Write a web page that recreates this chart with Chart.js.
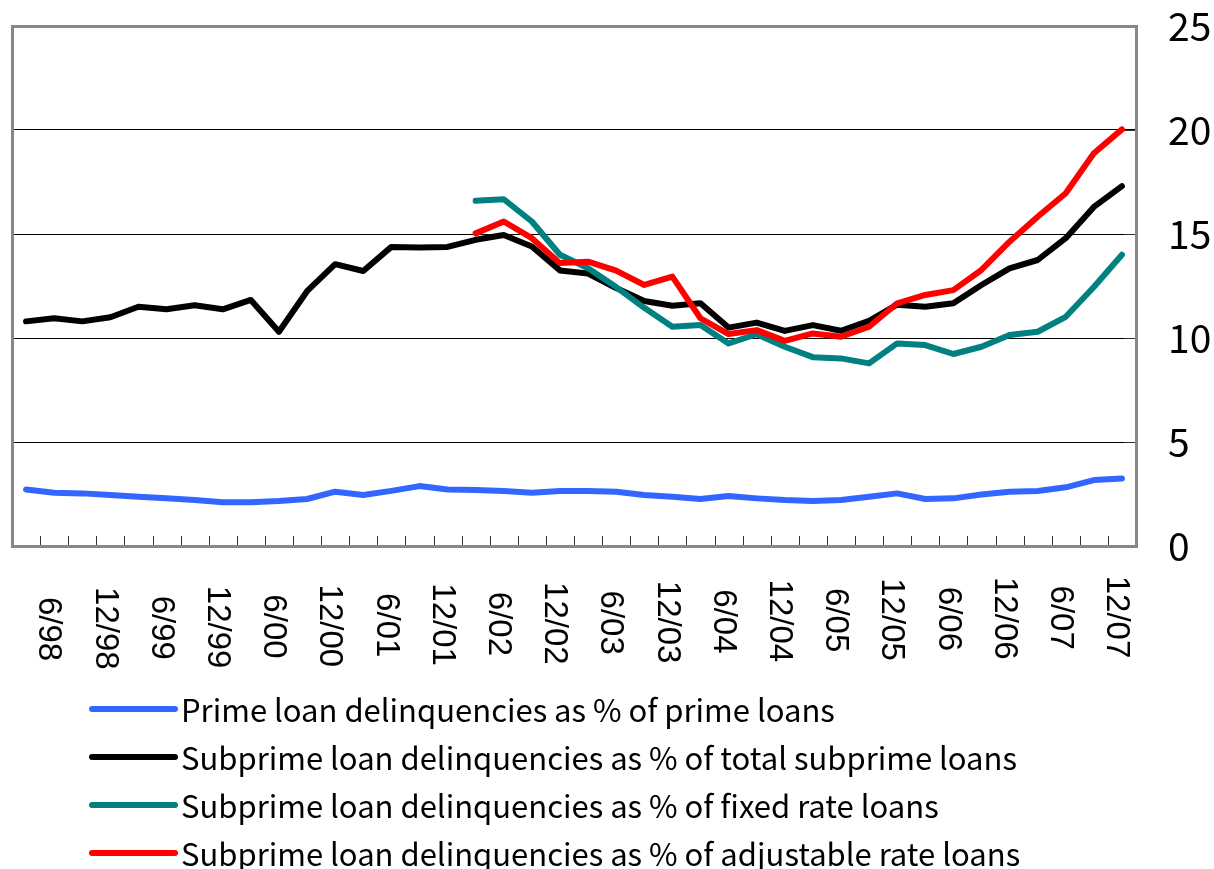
<!DOCTYPE html>
<html>
<head>
<meta charset="utf-8">
<script src="https://cdn.jsdelivr.net/npm/chart.js@4.4.1/dist/chart.umd.min.js"></script>
<style>
  html, body { margin: 0; padding: 0; background: #ffffff; }
  #wrap { width: 1214px; height: 869px; position: relative; }
</style>
</head>
<body>
<div id="wrap"><canvas id="chart" width="1214" height="869"></canvas></div>
<script>
// Quarter-end dates, March 1998 to December 2007
const quarters = [
  "3/98","6/98","9/98","12/98","3/99","6/99","9/99","12/99",
  "3/00","6/00","9/00","12/00","3/01","6/01","9/01","12/01",
  "3/02","6/02","9/02","12/02","3/03","6/03","9/03","12/03",
  "3/04","6/04","9/04","12/04","3/05","6/05","9/05","12/05",
  "3/06","6/06","9/06","12/06","3/07","6/07","9/07","12/07"
];

// Labels printed under the axis (every second quarter)
const axisLabels = [
  "6/98","12/98","6/99","12/99","6/00","12/00","6/01","12/01","6/02","12/02",
  "6/03","12/03","6/04","12/04","6/05","12/05","6/06","12/06","6/07","12/07"
];

// Delinquency rates, percent
const primeLoans = [
  2.72, 2.56, 2.53, 2.45, 2.37, 2.29, 2.21, 2.10, 2.10, 2.16,
  2.26, 2.61, 2.45, 2.65, 2.88, 2.72, 2.69, 2.64, 2.56, 2.64,
  2.64, 2.61, 2.45, 2.37, 2.26, 2.40, 2.29, 2.21, 2.16, 2.21,
  2.37, 2.53, 2.26, 2.29, 2.48, 2.61, 2.64, 2.82, 3.17, 3.25
];
const subprimeTotal = [
  10.80, 10.95, 10.80, 11.00, 11.50, 11.38, 11.57, 11.38, 11.83, 10.30,
  12.25, 13.55, 13.22, 14.38, 14.35, 14.38, 14.72, 14.95, 14.40, 13.25,
  13.10, 12.40, 11.78, 11.55, 11.67, 10.50, 10.74, 10.34, 10.62, 10.35,
  10.83, 11.60, 11.50, 11.67, 12.55, 13.35, 13.75, 14.80, 16.30, 17.30
];
const subprimeFixed = [
  null, null, null, null, null, null, null, null, null, null,
  null, null, null, null, null, null, 16.60, 16.67, 15.60, 14.00,
  13.35, 12.45, 11.45, 10.54, 10.63, 9.74, 10.18, 9.58, 9.08, 9.02,
  8.78, 9.74, 9.66, 9.23, 9.58, 10.14, 10.30, 11.02, 12.45, 14.00
];
const subprimeAdjustable = [
  null, null, null, null, null, null, null, null, null, null,
  null, null, null, null, null, null, 15.03, 15.60, 14.80, 13.60,
  13.67, 13.24, 12.55, 12.95, 10.95, 10.19, 10.38, 9.86, 10.22, 10.06,
  10.54, 11.67, 12.07, 12.30, 13.27, 14.63, 15.83, 16.96, 18.88, 20.03
];

const yTicks = [0, 5, 10, 15, 20, 25];

const seriesNames = [
  "Prime loan delinquencies as % of prime loans",
  "Subprime loan delinquencies as % of total subprime loans",
  "Subprime loan delinquencies as % of fixed rate loans",
  "Subprime loan delinquencies as % of adjustable rate loans"
];

const LEGEND_FONT = '31px "Noto Sans CJK JP", "Noto Sans", sans-serif';
const XLABEL_FONT_SIZE = 33;

// Plot frame, inward tick marks, rotated date labels and the legend
const decorations = {
  id: 'decorations',
  beforeDatasetsDraw(chart) {
    const { ctx, chartArea: a, scales: { x, y } } = chart;
    ctx.save();
    ctx.strokeStyle = '#333333';
    ctx.lineWidth = 1;
    ctx.beginPath();
    for (let i = 0; i <= quarters.length; i++) {
      const px = Math.round(x.getPixelForValue(i - 0.5)) + 0.5;
      ctx.moveTo(px, a.bottom);
      ctx.lineTo(px, a.bottom - 10);
    }
    yTicks.forEach(v => {
      const py = Math.round(y.getPixelForValue(v)) + 0.5;
      ctx.moveTo(a.right, py);
      ctx.lineTo(a.right - 12, py);
    });
    ctx.stroke();
    ctx.strokeStyle = '#888888';
    ctx.lineWidth = 3;
    ctx.strokeRect(a.left + 0.5, a.top + 0.5, a.right - a.left, a.bottom - a.top);
    ctx.restore();
  },
  afterDraw(chart) {
    const { ctx, scales: { x } } = chart;
    ctx.save();
    // date labels, turned a quarter clockwise
    ctx.font = XLABEL_FONT_SIZE + 'px "Liberation Sans", Arial, sans-serif';
    ctx.fillStyle = '#000000';
    ctx.textAlign = 'center';
    ctx.textBaseline = 'alphabetic';
    const capH = 0.716 * XLABEL_FONT_SIZE;
    axisLabels.forEach(lbl => {
      const idx = quarters.indexOf(lbl);
      const px = x.getPixelForValue(idx) - 3;
      const cy = 629 - 0.0112 * (px - 51);
      ctx.save();
      ctx.translate(px - capH / 2, cy);
      ctx.rotate(Math.PI / 2);
      ctx.fillText(lbl, 0, 0);
      ctx.restore();
    });
    // legend
    ctx.font = LEGEND_FONT;
    ctx.textAlign = 'left';
    ctx.textBaseline = 'alphabetic';
    chart.data.datasets.forEach((ds, i) => {
      const yy = 709 + 48 * i;
      ctx.strokeStyle = ds.borderColor;
      ctx.lineWidth = 6;
      ctx.lineCap = 'round';
      ctx.beginPath();
      ctx.moveTo(92, yy);
      ctx.lineTo(175, yy);
      ctx.stroke();
      ctx.fillStyle = '#000000';
      ctx.fillText(ds.label, 181, yy + 13);
    });
    ctx.restore();
  }
};

const lineStyle = {
  borderWidth: 6,
  pointRadius: 0,
  pointHoverRadius: 0,
  borderCapStyle: 'round',
  borderJoinStyle: 'round',
  tension: 0,
  fill: false,
  spanGaps: false
};

new Chart(document.getElementById('chart'), {
  type: 'line',
  data: {
    labels: quarters,
    datasets: [
      { ...lineStyle, label: seriesNames[0], data: primeLoans, borderColor: '#3366FF', order: 4 },
      { ...lineStyle, label: seriesNames[1], data: subprimeTotal, borderColor: '#000000', order: 3 },
      { ...lineStyle, label: seriesNames[2], data: subprimeFixed, borderColor: '#008080', order: 2 },
      { ...lineStyle, label: seriesNames[3], data: subprimeAdjustable, borderColor: '#FF0000', order: 1 }
    ]
  },
  options: {
    responsive: false,
    devicePixelRatio: 1,
    animation: false,
    events: [],
    layout: { padding: { left: 12, top: 26, right: 0, bottom: 323 } },
    plugins: {
      legend: { display: false },
      tooltip: { enabled: false },
      title: { display: false }
    },
    scales: {
      x: {
        type: 'category',
        offset: true,
        grid: { display: false, drawTicks: false },
        border: { display: false },
        ticks: { display: false },
        afterFit(scale) { scale.height = 0; }
      },
      y: {
        position: 'right',
        min: 0,
        max: 25,
        afterBuildTicks(scale) { scale.ticks = yTicks.map(v => ({ value: v })); },
        grid: { color: '#000000', lineWidth: 1, drawTicks: false },
        border: { display: false },
        ticks: {
          padding: 32,
          color: '#000000',
          font: { family: '"Noto Sans CJK JP", "Noto Sans", sans-serif', size: 39 }
        },
        afterFit(scale) {
          scale.width = 78;
          scale.paddingTop = 0;
          scale.paddingBottom = 0;
        }
      }
    }
  },
  plugins: [decorations]
});
</script>
</body>
</html>
